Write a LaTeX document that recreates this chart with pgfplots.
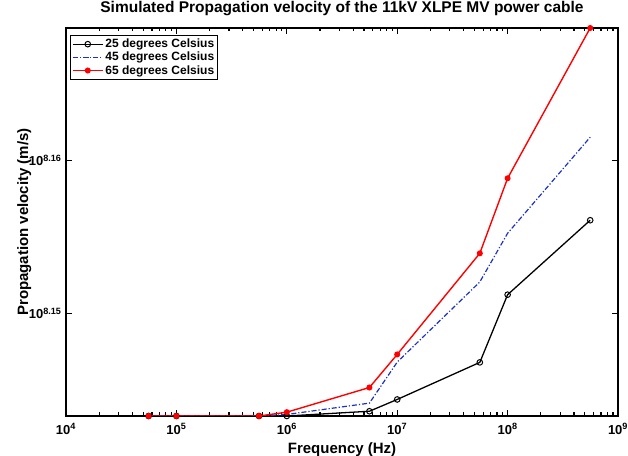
\documentclass[border=0pt]{standalone}
\usepackage{fontspec}
\setmainfont{Liberation Sans}
\usepackage{pgfplots}
\pgfplotsset{compat=1.18}
\newcommand\tp[1]{10\textsuperscript{#1}}
\definecolor{mblue}{RGB}{30,50,190}
% y values: (log10 of velocity - 8.14) x 1000
\begin{document}
\begin{tikzpicture}
\useasboundingbox (0,0) rectangle (628bp,456bp);
\begin{axis}[
  at={(66bp,40bp)}, anchor=south west,
  scale only axis, width=552bp, height=388bp,
  xmode=log,
  xmin=1e4, xmax=1e9,
  ymin=3.3, ymax=28.63,
  xtick={1e4,1e5,1e6,1e7,1e8,1e9},
  xticklabels={\tp{4},\tp{5},\tp{6},\tp{7},\tp{8},\tp{9}},
  extra x ticks={2e4,3e4,4e4,5e4,6e4,7e4,8e4,9e4,2e5,3e5,4e5,5e5,6e5,7e5,8e5,9e5,2e6,3e6,4e6,5e6,6e6,7e6,8e6,9e6,2e7,3e7,4e7,5e7,6e7,7e7,8e7,9e7,2e8,3e8,4e8,5e8,6e8,7e8,8e8,9e8},
  extra x tick labels={},
  extra x tick style={major tick length=3.5bp},
  ytick={10,20},
  yticklabels={\tp{8.15},\tp{8.16}},
  minor ytick={}, minor xtick={},
  tick align=inside,
  major tick length=6bp,
  xtick style={draw=black, line width=1.2pt},
  ytick style={draw=black, line width=1.2pt},
  axis line style={line width=1.2pt},
  xticklabel style={font=\bfseries\fontsize{13bp}{15bp}\selectfont, anchor=base, yshift=-18bp},
  yticklabel style={font=\bfseries\fontsize{13bp}{15bp}\selectfont, anchor=east, xshift=-1bp},
  title={Simulated Propagation velocity of the 11kV XLPE MV power cable},
  title style={font=\bfseries\fontsize{15.5bp}{17bp}\selectfont, at={(axis description cs:0.5,1)}, anchor=base, yshift=10bp},
  xlabel={Frequency (Hz)},
  xlabel style={font=\bfseries\fontsize{15bp}{17bp}\selectfont, at={(axis description cs:0.5,0)}, anchor=base, yshift=-37bp},
  ylabel={Propagation velocity (m/s)},
  ylabel style={font=\bfseries\fontsize{15bp}{17bp}\selectfont, at={(axis description cs:-0.0688,0.5)}, anchor=base},
  legend style={at={(axis description cs:0.0072,0.982)}, anchor=north west, draw=black, line width=1.2pt,
    font=\bfseries\fontsize{12bp}{14bp}\selectfont, inner sep=1.5bp, row sep=-1bp, cells={anchor=west}},
  legend image code/.code={\draw[mark repeat=2,mark phase=2,#1] plot coordinates {(0bp,0bp) (15bp,0bp) (30bp,0bp)};},
]
\addplot[black, line width=1.3pt, mark=o, mark size=2.8bp, mark options={line width=1pt}] coordinates {
 (5.6e4,3.3) (1e5,3.3) (5.6e5,3.3) (1e6,3.3) (5.6e6,3.61)
 (1e7,4.38) (5.6e7,6.8) (1e8,11.22) (5.6e8,16.08)};
\addlegendentry{25 degrees Celsius}
\addplot[mblue, line width=1.2pt, dash pattern=on 5bp off 2bp on 1.2bp off 2bp] coordinates {
 (5.6e4,3.3) (1e5,3.3) (5.6e5,3.3) (1e6,3.4) (5.6e6,4.14)
 (1e7,6.82) (5.6e7,12.05) (1e8,15.23) (5.6e8,21.5)};
\addlegendentry{45 degrees Celsius}
\addplot[red, line width=1.4pt, mark=*, mark size=2.3bp, mark options={solid}] coordinates {
 (5.6e4,3.3) (1e5,3.3) (5.6e5,3.3) (1e6,3.55) (5.6e6,5.16)
 (1e7,7.32) (5.6e7,13.92) (1e8,18.82) (5.6e8,28.63)};
\addlegendentry{65 degrees Celsius}
\end{axis}
\end{tikzpicture}
\end{document}
